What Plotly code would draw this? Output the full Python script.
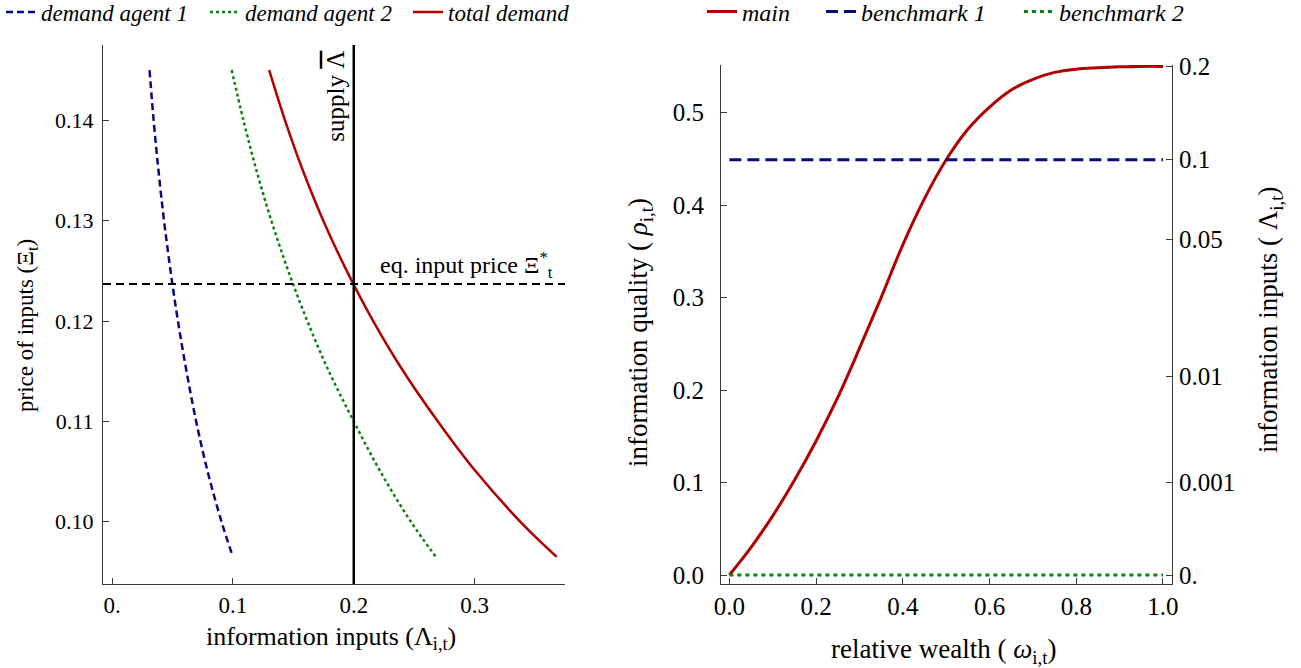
import plotly.graph_objects as go

# ---------------- data: left panel (demand for information inputs) ----------------
price = [0.145, 0.14, 0.135, 0.13, 0.125, 0.12, 0.115, 0.11, 0.105, 0.10, 0.0965]
demand_agent1 = [0.0310, 0.0344, 0.0384, 0.0430, 0.0484, 0.0545, 0.0616, 0.0696, 0.0791, 0.0906, 0.1000]
demand_agent2 = [0.0990, 0.1087, 0.1195, 0.1318, 0.1458, 0.1616, 0.1794, 0.2000, 0.2220, 0.2473, 0.2680]
demand_total = [0.1300, 0.1431, 0.1579, 0.1748, 0.1942, 0.2161, 0.2410, 0.2696, 0.3011, 0.3379, 0.3680]
supply_level = 0.2
eq_price = 0.1237
left_xticks = [0.0, 0.1, 0.2, 0.3]
left_xtick_text = ["0.", "0.1", "0.2", "0.3"]
left_yticks = [0.10, 0.11, 0.12, 0.13, 0.14]

# ---------------- data: right panel (information quality vs wealth) ----------------
wealth = [0.0, 0.05, 0.1, 0.15, 0.2, 0.25, 0.3, 0.35, 0.4, 0.45, 0.5,
          0.55, 0.6, 0.65, 0.7, 0.75, 0.8, 0.85, 0.9, 0.95, 1.0]
rho_main = [0.0, 0.030, 0.064, 0.1025, 0.145, 0.192, 0.245, 0.300, 0.357, 0.407, 0.449,
            0.482, 0.506, 0.5245, 0.536, 0.5435, 0.547, 0.5485, 0.5495, 0.550, 0.550]
bench_wealth = [0.0, 1.0]
rho_bench1 = [0.449, 0.449]
rho_bench2 = [0.0, 0.0]
right_xticks = [0.0, 0.2, 0.4, 0.6, 0.8, 1.0]
right_yticks = [0.0, 0.1, 0.2, 0.3, 0.4, 0.5]
lambda_tick_pos = [0.0, 0.1004, 0.2151, 0.3629, 0.4498, 0.550]
lambda_tick_text = ["0.", "0.001", "0.01", "0.05", "0.1", "0.2"]

# ---------------- styling ----------------
W, H = 1301, 668
FONT = "Liberation Serif"
NAVY = "#0a0a80"
GREEN = "#0a820a"
RED = "#b00000"
AX = "#3a3a3a"


def px_x(p):
    return p / W


def px_y(p):
    return (H - p) / H


def f(size):
    return dict(family=FONT, size=size, color="black")


fig = go.Figure()

# left panel traces
fig.add_trace(go.Scatter(x=demand_agent1, y=price, mode="lines", name="<i>demand agent 1</i>",
                         line=dict(color=NAVY, width=2.5, dash="7px,4px", shape="spline"),
                         xaxis="x", yaxis="y", legend="legend"))
fig.add_trace(go.Scatter(x=demand_agent2, y=price, mode="lines", name="<i>demand agent 2</i>",
                         line=dict(color=GREEN, width=2.5, dash="3px,3px", shape="spline"),
                         xaxis="x", yaxis="y", legend="legend2"))
fig.add_trace(go.Scatter(x=demand_total, y=price, mode="lines", name="<i>total demand</i>",
                         line=dict(color=RED, width=2.5, shape="spline"),
                         xaxis="x", yaxis="y", legend="legend3"))

# right panel traces
fig.add_trace(go.Scatter(x=wealth, y=rho_main, mode="lines", name="<i>main</i>",
                         line=dict(color=RED, width=3, shape="spline", smoothing=1.0),
                         xaxis="x2", yaxis="y2", legend="legend4"))
fig.add_trace(go.Scatter(x=bench_wealth, y=rho_bench1, mode="lines", name="<i>benchmark 1</i>",
                         line=dict(color=NAVY, width=3, dash="12px,6px"),
                         xaxis="x2", yaxis="y2", legend="legend5"))
fig.add_trace(go.Scatter(x=bench_wealth, y=rho_bench2, mode="lines", name="<i>benchmark 2</i>",
                         line=dict(color=GREEN, width=3, dash="4px,4px"),
                         xaxis="x2", yaxis="y2", legend="legend6"))
# invisible trace so the right-hand axis is drawn
fig.add_trace(go.Scatter(x=[None], y=[None], xaxis="x2", yaxis="y3", showlegend=False, hoverinfo="skip"))

# supply and equilibrium lines
shapes = [
    dict(type="line", xref="x", yref="y domain", x0=supply_level, x1=supply_level, y0=0, y1=1,
         line=dict(color="black", width=2.5), layer="above"),
    dict(type="line", xref="x domain", yref="y", x0=0, x1=1, y0=eq_price, y1=eq_price,
         line=dict(color="black", width=2, dash="8px,5px"), layer="above"),
]


def axis(size, **kw):
    d = dict(showgrid=False, zeroline=False, showline=True, linecolor=AX, linewidth=1.2,
             ticks="inside", ticklen=6, tickcolor=AX, tickwidth=1, tickfont=f(size),
             automargin=False)
    d.update(kw)
    return d


left_dom_x = [px_x(103), px_x(565)]
right_dom_x = [px_x(721), px_x(1172)]
left_dom_y = [px_y(584), px_y(45)]
right_dom_y = [px_y(584), px_y(65)]


def title_ann(text, x, y, size, angle=0):
    return dict(text=text, x=px_x(x), y=px_y(y), xref="paper", yref="paper",
                xanchor="center", yanchor="middle", textangle=angle,
                showarrow=False, font=f(size))


annotations = [
    dict(text="supply <span style='text-decoration:overline'>Λ</span>", x=supply_level, y=1,
         xref="x", yref="y domain", xanchor="right", yanchor="top", textangle=-90,
         showarrow=False, xshift=-3, yshift=-4, font=f(25)),
    dict(text="eq. input price Ξ<sup>*</sup><sub>t</sub>", x=1, y=eq_price,
         xref="x domain", yref="y", xanchor="right", yanchor="bottom",
         showarrow=False, xshift=-10, yshift=0, font=f(24)),
    title_ann("information inputs (Λ<sub>i,t</sub>)", 331, 638, 26),
    title_ann("price of inputs (Ξ<sub>t</sub>)", 27, 326, 23, -90),
    title_ann("relative wealth ( <i>ω</i><sub>i,t</sub>)", 943, 651, 27),
    title_ann("information quality ( <i>ρ</i><sub>i,t</sub>)", 640, 333, 27, -90),
    title_ann("information inputs ( Λ<sub>i,t</sub>)", 1270, 320, 27, -90),
]


def leg(sample_start, size):
    return dict(orientation="h", x=px_x(sample_start - 5), y=px_y(12), xanchor="left", yanchor="middle",
                font=f(size), bgcolor="rgba(0,0,0,0)", borderwidth=0)


fig.update_layout(
    width=W, height=H,
    margin=dict(l=0, r=0, t=0, b=0, autoexpand=False),
    paper_bgcolor="white", plot_bgcolor="white",
    font=f(22),
    xaxis=axis(23, domain=left_dom_x, range=[-0.0075, 0.3748], anchor="y",
               tickvals=left_xticks, ticktext=left_xtick_text),
    yaxis=axis(22, domain=left_dom_y, range=[0.0938, 0.1475], anchor="x",
               tickvals=left_yticks, tickformat=".2f", ticklabelstandoff=4),
    xaxis2=axis(25, domain=right_dom_x, range=[-0.0193, 1.0208], anchor="y2",
                tickvals=right_xticks, tickformat=".1f"),
    yaxis2=axis(25, domain=right_dom_y, range=[-0.0097, 0.5515], anchor="x2",
                tickvals=right_yticks, tickformat=".1f", ticklabelstandoff=11),
    yaxis3=axis(25, domain=right_dom_y, range=[-0.0097, 0.5515], anchor="x2", overlaying="y2", side="right",
                tickvals=lambda_tick_pos, ticktext=lambda_tick_text, ticklabelstandoff=1),
    legend=leg(6, 23),
    legend2=leg(210, 23),
    legend3=leg(413, 23),
    legend4=leg(707, 24),
    legend5=leg(826, 24),
    legend6=leg(1024, 24),
    shapes=shapes,
    annotations=annotations,
)

fig.write_html("out.html")
